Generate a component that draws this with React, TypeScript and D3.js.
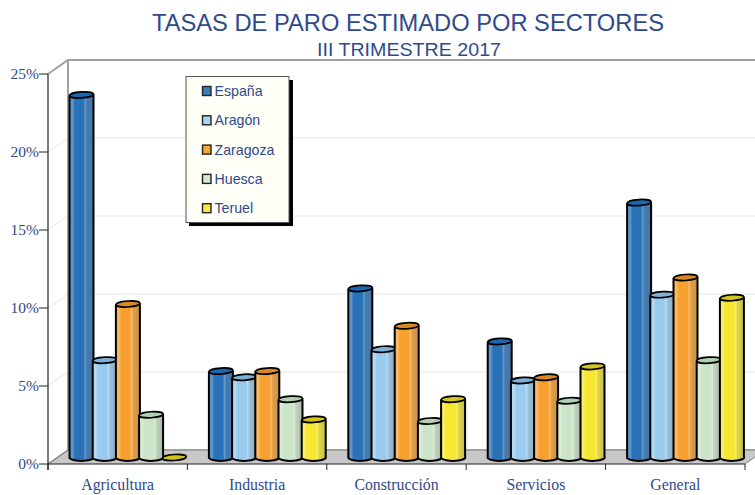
import React from "react";
import * as d3 from "d3";

const categories = ["Agricultura", "Industria", "Construcción", "Servicios", "General"];
const seriesNames = ["España", "Aragón", "Zaragoza", "Huesca", "Teruel"];
const espana = [23.4, 5.7, 11.0, 7.6, 16.5];
const aragon = [6.4, 5.3, 7.1, 5.1, 10.6];
const zaragoza = [10.0, 5.7, 8.6, 5.3, 11.7];
const huesca = [2.9, 3.9, 2.5, 3.8, 6.4];
const teruel = [0.1, 2.6, 3.9, 6.0, 10.4];
const yTicks = [0, 5, 10, 15, 20, 25];
const allSeries = [espana, aragon, zaragoza, huesca, teruel];
const colors = ["#2a72b8", "#9acbee", "#f7a030", "#cce4c8", "#f6e830"];
const topColors = ["#1d66b0", "#7fb0d8", "#d98a24", "#b0d0b0", "#d4c420"];
const legendFill = ["#3a7cc0", "#a8d4f2", "#f8a535", "#d5e8d2", "#f8e840"];

const X0 = 48, X1 = 745, DX = 20, DY = -14;
const y = d3.scaleLinear().domain([0, 25]).range([464, 74]);
const x = d3.scaleBand().domain(categories).range([X0, X1]);
const TXT = "#2f4a8c";
const BAR_W = 24, STEP = 23.2, BASE = -3.5, RY = 3.6;

export default function App() {
  const bw = x.bandwidth();
  return (
    <svg width={755} height={495} style={{ position: "absolute", left: 0, top: 0, background: "#fff" }}>
      <defs>
        {colors.map((c, i) => {
          const lighter = d3.interpolateRgb(c, "#fff")(0.28);
          const mid = d3.interpolateRgb(c, "#999")(0.22);
          const darker = d3.interpolateRgb(c, "#777")(0.42);
          return (
            <linearGradient id={"g" + i} key={c} x1="0" x2="1" y1="0" y2="0">
              <stop offset="0" stopColor={d3.interpolateRgb(c, "#fff")(0.18)} />
              <stop offset="0.12" stopColor={lighter} />
              <stop offset="0.22" stopColor={c} />
              <stop offset="0.58" stopColor={c} />
              <stop offset="0.64" stopColor={lighter} />
              <stop offset="0.72" stopColor={mid} />
              <stop offset="1" stopColor={darker} />
            </linearGradient>
          );
        })}
      </defs>

      <text x={408} y={31} textAnchor="middle" fontFamily="Liberation Sans" fontSize={23.7} fill={TXT}>TASAS DE PARO ESTIMADO POR SECTORES</text>
      <text x={409} y={55.5} textAnchor="middle" fontFamily="Liberation Sans" fontSize={17.5} textLength={184} lengthAdjust="spacingAndGlyphs" fill={TXT}>III TRIMESTRE 2017</text>

      <path d={`M${X0},${y(0)}L${X0 + DX},${y(0) + DY}H${X1 + DX}L${X1},${y(0)}Z`} fill="#c8c8c8" />
      {yTicks.filter(t => t > 0).map(t => (
        <path key={t} d={`M${X0},${y(t)}L${X0 + DX},${y(t) + DY}H755`} fill="none" stroke={t === 25 ? "none" : "#e6e6e6"} strokeWidth={1} />
      ))}
      <path d={`M${X0},${y(25)}L${X0 + DX},${y(25) + DY}H755`} fill="none" stroke="#a0a0a0" strokeWidth={2} />
      <path d={`M${X0 + DX},${y(25) + DY}V${y(0) + DY}H755`} fill="none" stroke="#a0a0a0" strokeWidth={2} />
      <path d={`M${X0},${y(0)}L${X0 + DX},${y(0) + DY}`} stroke="#808080" strokeWidth={1.5} />
      <path d={`M${X1},${y(0)}L${X1 + DX},${y(0) + DY}`} stroke="#808080" strokeWidth={1} />

      {allSeries.map((vals, s) =>
        vals.map((v, c) => {
          const left = (x(categories[c]) as number) + DX + 1.5 + s * STEP;
          const bottom = y(0) - 5;
          const flat = v <= 0.5;
          const top = flat ? bottom - 1 : y(v) + BASE;
          const cx = left + BAR_W / 2;
          const rx = BAR_W / 2;
          const body = `M${left},${top + 0.6}V${bottom - 1}A${rx},${RY} 0 0 0 ${left + BAR_W},${bottom - 2.5}V${top - 0.6}Z`;
          return (
            <g key={s + "-" + c}>
              {!flat && <path d={body} fill={`url(#g${s})`} stroke="#000" strokeWidth={2} strokeLinejoin="round" />}
              <ellipse cx={cx} cy={top - 0.5} rx={rx} ry={3} transform={`rotate(-3.5 ${cx} ${top - 0.5})`} fill={topColors[s]} stroke="#000" strokeWidth={1.7} />
            </g>
          );
        })
      )}

      <path d={`M${X0},${y(25)}V${y(0) + 6}`} stroke="#222" strokeWidth={1.2} fill="none" />
      <path d={`M${X0},${y(0)}H${X1}`} stroke="#222" strokeWidth={1.2} fill="none" />
      {yTicks.map(t => (
        <g key={t}>
          <line x1={X0 - 9} x2={X0} y1={y(t)} y2={y(t)} stroke="#222" strokeWidth={1} />
          <text x={X0 - 9} y={y(t) + 4.5} textAnchor="end" fontFamily="Liberation Serif" fontSize={15.5} fill={TXT}>{t}%</text>
        </g>
      ))}
      {[...categories.map(c => x(c) as number), X1].map((p, i) => (
        <line key={i} x1={p} x2={p} y1={y(0)} y2={y(0) + 6} stroke="#222" strokeWidth={1} />
      ))}
      {categories.map(c => (
        <text key={c} x={(x(c) as number) + bw / 2} y={490} textAnchor="middle" fontFamily="Liberation Serif" fontSize={15.8} fill={TXT}>{c}</text>
      ))}

      <rect x={189} y={80} width={104} height={146} fill="#000" />
      <rect x={186} y={76.5} width={103} height={146} fill="#fffff8" stroke="#555" strokeWidth={1} />
      {seriesNames.map((n, i) => {
        const ly = 91 + i * 29.3;
        return (
          <g key={n}>
            <rect x={202.5} y={ly - 4.5} width={8.5} height={9} fill={legendFill[i]} stroke="#222" strokeWidth={1.4} />
            <text x={214.5} y={ly + 5} fontFamily="Liberation Sans" fontSize={14.2} fill={TXT}>{n}</text>
          </g>
        );
      })}
    </svg>
  );
}
